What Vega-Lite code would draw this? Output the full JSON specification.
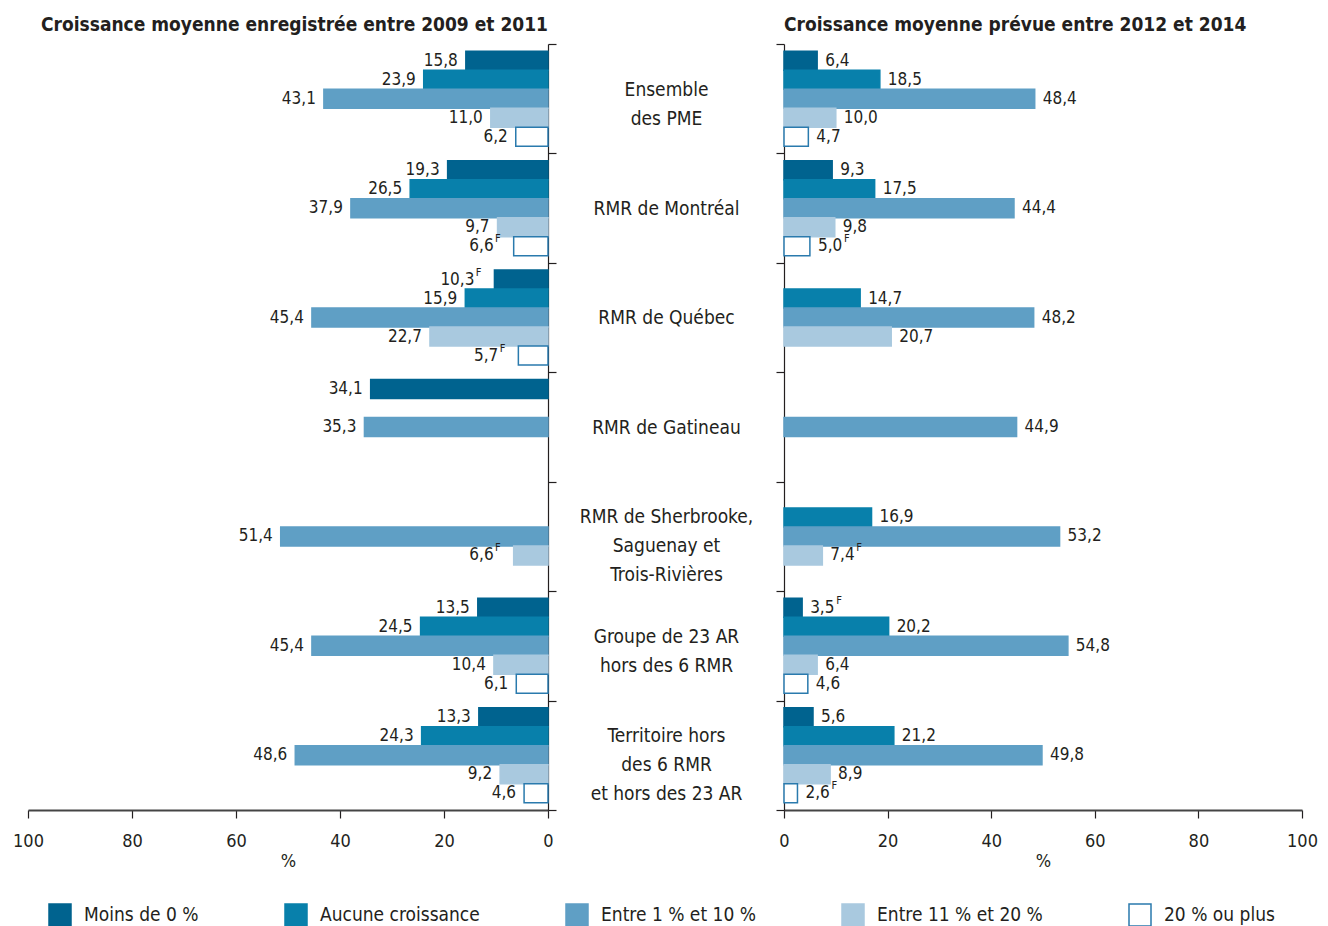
{
  "$schema": "https://vega.github.io/schema/vega-lite/v6.json",
  "background": "white",
  "padding": {"left": 12, "top": 16, "right": 10, "bottom": 5},
  "bounds": "flush",
  "spacing": 236,
  "config": {
    "locale": {"number": {"decimal": ",", "thousands": " ", "grouping": [3], "currency": ["", " $"]}},
    "font": "DejaVu Sans Condensed",
    "view": {"stroke": null},
    "axis": {"labelFont": "DejaVu Sans Condensed", "labelFontSize": 18, "labelColor": "#231f20", "titleFont": "DejaVu Sans Condensed", "titleFontSize": 18, "titleFontWeight": "normal", "titleColor": "#231f20", "domainColor": "#231f20", "tickColor": "#231f20", "grid": false},
    "legend": {"labelFont": "DejaVu Sans Condensed", "labelFontSize": 19, "labelColor": "#231f20"},
    "title": {"font": "DejaVu Sans Condensed", "fontSize": 19, "fontWeight": "bold", "color": "#231f20"}
  },
  "data": {"values": [
    {"p": "A", "region": "Ensemble|des PME", "series": "Moins de 0 %", "value": 15.8, "f": false},
    {"p": "A", "region": "Ensemble|des PME", "series": "Aucune croissance", "value": 23.9, "f": false},
    {"p": "A", "region": "Ensemble|des PME", "series": "Entre 1 % et 10 %", "value": 43.1, "f": false},
    {"p": "A", "region": "Ensemble|des PME", "series": "Entre 11 % et 20 %", "value": 11.0, "f": false},
    {"p": "A", "region": "Ensemble|des PME", "series": "20 % ou plus", "value": 6.2, "f": false},
    {"p": "A", "region": "RMR de Montréal", "series": "Moins de 0 %", "value": 19.3, "f": false},
    {"p": "A", "region": "RMR de Montréal", "series": "Aucune croissance", "value": 26.5, "f": false},
    {"p": "A", "region": "RMR de Montréal", "series": "Entre 1 % et 10 %", "value": 37.9, "f": false},
    {"p": "A", "region": "RMR de Montréal", "series": "Entre 11 % et 20 %", "value": 9.7, "f": false},
    {"p": "A", "region": "RMR de Montréal", "series": "20 % ou plus", "value": 6.6, "f": true},
    {"p": "A", "region": "RMR de Québec", "series": "Moins de 0 %", "value": 10.3, "f": true},
    {"p": "A", "region": "RMR de Québec", "series": "Aucune croissance", "value": 15.9, "f": false},
    {"p": "A", "region": "RMR de Québec", "series": "Entre 1 % et 10 %", "value": 45.4, "f": false},
    {"p": "A", "region": "RMR de Québec", "series": "Entre 11 % et 20 %", "value": 22.7, "f": false},
    {"p": "A", "region": "RMR de Québec", "series": "20 % ou plus", "value": 5.7, "f": true},
    {"p": "A", "region": "RMR de Gatineau", "series": "Moins de 0 %", "value": 34.1, "f": false},
    {"p": "A", "region": "RMR de Gatineau", "series": "Entre 1 % et 10 %", "value": 35.3, "f": false},
    {"p": "A", "region": "RMR de Sherbrooke,|Saguenay et|Trois-Rivières", "series": "Entre 1 % et 10 %", "value": 51.4, "f": false},
    {"p": "A", "region": "RMR de Sherbrooke,|Saguenay et|Trois-Rivières", "series": "Entre 11 % et 20 %", "value": 6.6, "f": true},
    {"p": "A", "region": "Groupe de 23 AR|hors des 6 RMR", "series": "Moins de 0 %", "value": 13.5, "f": false},
    {"p": "A", "region": "Groupe de 23 AR|hors des 6 RMR", "series": "Aucune croissance", "value": 24.5, "f": false},
    {"p": "A", "region": "Groupe de 23 AR|hors des 6 RMR", "series": "Entre 1 % et 10 %", "value": 45.4, "f": false},
    {"p": "A", "region": "Groupe de 23 AR|hors des 6 RMR", "series": "Entre 11 % et 20 %", "value": 10.4, "f": false},
    {"p": "A", "region": "Groupe de 23 AR|hors des 6 RMR", "series": "20 % ou plus", "value": 6.1, "f": false},
    {"p": "A", "region": "Territoire hors|des 6 RMR|et hors des 23 AR", "series": "Moins de 0 %", "value": 13.3, "f": false},
    {"p": "A", "region": "Territoire hors|des 6 RMR|et hors des 23 AR", "series": "Aucune croissance", "value": 24.3, "f": false},
    {"p": "A", "region": "Territoire hors|des 6 RMR|et hors des 23 AR", "series": "Entre 1 % et 10 %", "value": 48.6, "f": false},
    {"p": "A", "region": "Territoire hors|des 6 RMR|et hors des 23 AR", "series": "Entre 11 % et 20 %", "value": 9.2, "f": false},
    {"p": "A", "region": "Territoire hors|des 6 RMR|et hors des 23 AR", "series": "20 % ou plus", "value": 4.6, "f": false},
    {"p": "B", "region": "Ensemble|des PME", "series": "Moins de 0 %", "value": 6.4, "f": false},
    {"p": "B", "region": "Ensemble|des PME", "series": "Aucune croissance", "value": 18.5, "f": false},
    {"p": "B", "region": "Ensemble|des PME", "series": "Entre 1 % et 10 %", "value": 48.4, "f": false},
    {"p": "B", "region": "Ensemble|des PME", "series": "Entre 11 % et 20 %", "value": 10.0, "f": false},
    {"p": "B", "region": "Ensemble|des PME", "series": "20 % ou plus", "value": 4.7, "f": false},
    {"p": "B", "region": "RMR de Montréal", "series": "Moins de 0 %", "value": 9.3, "f": false},
    {"p": "B", "region": "RMR de Montréal", "series": "Aucune croissance", "value": 17.5, "f": false},
    {"p": "B", "region": "RMR de Montréal", "series": "Entre 1 % et 10 %", "value": 44.4, "f": false},
    {"p": "B", "region": "RMR de Montréal", "series": "Entre 11 % et 20 %", "value": 9.8, "f": false},
    {"p": "B", "region": "RMR de Montréal", "series": "20 % ou plus", "value": 5.0, "f": true},
    {"p": "B", "region": "RMR de Québec", "series": "Aucune croissance", "value": 14.7, "f": false},
    {"p": "B", "region": "RMR de Québec", "series": "Entre 1 % et 10 %", "value": 48.2, "f": false},
    {"p": "B", "region": "RMR de Québec", "series": "Entre 11 % et 20 %", "value": 20.7, "f": false},
    {"p": "B", "region": "RMR de Gatineau", "series": "Entre 1 % et 10 %", "value": 44.9, "f": false},
    {"p": "B", "region": "RMR de Sherbrooke,|Saguenay et|Trois-Rivières", "series": "Aucune croissance", "value": 16.9, "f": false},
    {"p": "B", "region": "RMR de Sherbrooke,|Saguenay et|Trois-Rivières", "series": "Entre 1 % et 10 %", "value": 53.2, "f": false},
    {"p": "B", "region": "RMR de Sherbrooke,|Saguenay et|Trois-Rivières", "series": "Entre 11 % et 20 %", "value": 7.4, "f": true},
    {"p": "B", "region": "Groupe de 23 AR|hors des 6 RMR", "series": "Moins de 0 %", "value": 3.5, "f": true},
    {"p": "B", "region": "Groupe de 23 AR|hors des 6 RMR", "series": "Aucune croissance", "value": 20.2, "f": false},
    {"p": "B", "region": "Groupe de 23 AR|hors des 6 RMR", "series": "Entre 1 % et 10 %", "value": 54.8, "f": false},
    {"p": "B", "region": "Groupe de 23 AR|hors des 6 RMR", "series": "Entre 11 % et 20 %", "value": 6.4, "f": false},
    {"p": "B", "region": "Groupe de 23 AR|hors des 6 RMR", "series": "20 % ou plus", "value": 4.6, "f": false},
    {"p": "B", "region": "Territoire hors|des 6 RMR|et hors des 23 AR", "series": "Moins de 0 %", "value": 5.6, "f": false},
    {"p": "B", "region": "Territoire hors|des 6 RMR|et hors des 23 AR", "series": "Aucune croissance", "value": 21.2, "f": false},
    {"p": "B", "region": "Territoire hors|des 6 RMR|et hors des 23 AR", "series": "Entre 1 % et 10 %", "value": 49.8, "f": false},
    {"p": "B", "region": "Territoire hors|des 6 RMR|et hors des 23 AR", "series": "Entre 11 % et 20 %", "value": 8.9, "f": false},
    {"p": "B", "region": "Territoire hors|des 6 RMR|et hors des 23 AR", "series": "20 % ou plus", "value": 2.6, "f": true}
  ]},
  "hconcat": [
    {
      "width": 520,
      "height": 766,
      "title": {"text": "Croissance moyenne enregistrée entre 2009 et 2011", "anchor": "end", "frame": "group", "offset": 8},
      "transform": [{"filter": "datum.p === 'A'"}],
      "encoding": {
        "y": {"field": "region", "type": "nominal",
          "scale": {"domain": ["Ensemble|des PME", "RMR de Montréal", "RMR de Québec", "RMR de Gatineau", "RMR de Sherbrooke,|Saguenay et|Trois-Rivières", "Groupe de 23 AR|hors des 6 RMR", "Territoire hors|des 6 RMR|et hors des 23 AR"], "paddingInner": 0, "paddingOuter": 0},
          "axis": {"orient": "right", "title": null, "labels": false, "tickBand": "extent", "tickSize": 8, "domainWidth": 1.2, "tickWidth": 1.2}},
        "yOffset": {"field": "series", "type": "nominal",
          "scale": {"domain": ["Moins de 0 %", "Aucune croissance", "Entre 1 % et 10 %", "Entre 11 % et 20 %", "20 % ou plus"], "paddingInner": 0, "paddingOuter": 0.38}},
        "x": {"field": "value", "type": "quantitative",
          "scale": {"domain": [0, 100], "reverse": true},
          "axis": {"values": [0, 20, 40, 60, 80, 100], "title": "%", "tickSize": 8, "tickWidth": 1.2, "labelFlush": false, "labelPadding": 14, "titlePadding": 2, "domainWidth": 2, "domainColor": "#444"}}
      },
      "layer": [
        {"mark": {"type": "bar", "strokeWidth": 1.5},
         "encoding": {
           "fill": {"field": "series", "type": "nominal", "title": null,
             "scale": {"domain": ["Moins de 0 %", "Aucune croissance", "Entre 1 % et 10 %", "Entre 11 % et 20 %", "20 % ou plus"], "range": ["#00638f", "#0880ab", "#5f9fc5", "#a9c9df", "#ffffff"]},
             "legend": {"orient": "none", "legendX": 20, "legendY": 859, "direction": "horizontal", "symbolType": "square", "symbolSize": 484, "symbolStrokeWidth": 1.5, "labelOffset": 12, "columnPadding": 83, "labelLimit": 300}},
           "stroke": {"field": "series", "type": "nominal", "title": null,
             "scale": {"domain": ["Moins de 0 %", "Aucune croissance", "Entre 1 % et 10 %", "Entre 11 % et 20 %", "20 % ou plus"], "range": ["#00638f", "#0880ab", "#5f9fc5", "#a9c9df", "#2a7aad"]}}
         }},
        {"transform": [{"filter": "!datum.f"}],
         "mark": {"type": "text", "align": "right", "dx": -8, "fontSize": 17, "color": "#231f20"},
         "encoding": {"text": {"field": "value", "type": "quantitative", "format": ".1f"}}},
        {"transform": [{"filter": "datum.f"}],
         "mark": {"type": "text", "align": "right", "dx": -20, "fontSize": 17, "color": "#231f20"},
         "encoding": {"text": {"field": "value", "type": "quantitative", "format": ".1f"}}},
        {"transform": [{"filter": "datum.f"}],
         "mark": {"type": "text", "align": "right", "dx": -13, "dy": -7, "fontSize": 11, "color": "#231f20"},
         "encoding": {"text": {"value": "F"}}}
      ]
    },
    {
      "width": 518,
      "height": 766,
      "title": {"text": "Croissance moyenne prévue entre 2012 et 2014", "anchor": "start", "frame": "group", "offset": 0},
      "transform": [{"filter": "datum.p === 'B'"}],
      "encoding": {
        "y": {"field": "region", "type": "nominal",
          "scale": {"domain": ["Ensemble|des PME", "RMR de Montréal", "RMR de Québec", "RMR de Gatineau", "RMR de Sherbrooke,|Saguenay et|Trois-Rivières", "Groupe de 23 AR|hors des 6 RMR", "Territoire hors|des 6 RMR|et hors des 23 AR"], "paddingInner": 0, "paddingOuter": 0},
          "axis": {"orient": "left", "title": null, "tickBand": "extent", "tickSize": 8, "domainWidth": 1.2, "tickWidth": 1.2, "labelExpr": "split(datum.label, '|')", "labelAlign": "center", "labelBaseline": "middle", "labelPadding": 110, "labelFontSize": 19, "labelLineHeight": 29, "labelLimit": 300, "labelOverlap": false,
            "labelOffset": {"condition": [{"test": "length(split(datum.value, '|')) === 3", "value": -20}, {"test": "length(split(datum.value, '|')) === 2", "value": -9}], "value": 0}}},
        "yOffset": {"field": "series", "type": "nominal",
          "scale": {"domain": ["Moins de 0 %", "Aucune croissance", "Entre 1 % et 10 %", "Entre 11 % et 20 %", "20 % ou plus"], "paddingInner": 0, "paddingOuter": 0.38}},
        "x": {"field": "value", "type": "quantitative",
          "scale": {"domain": [0, 100]},
          "axis": {"values": [0, 20, 40, 60, 80, 100], "title": "%", "tickSize": 8, "tickWidth": 1.2, "labelFlush": false, "labelPadding": 14, "titlePadding": 2, "domainWidth": 2, "domainColor": "#444"}}
      },
      "layer": [
        {"mark": {"type": "bar", "strokeWidth": 1.5},
         "encoding": {
           "fill": {"field": "series", "type": "nominal", "title": null},
           "stroke": {"field": "series", "type": "nominal", "title": null}
         }},
        {"transform": [{"filter": "!datum.f"}],
         "mark": {"type": "text", "align": "left", "dx": 8, "fontSize": 17, "color": "#231f20"},
         "encoding": {"text": {"field": "value", "type": "quantitative", "format": ".1f"}}},
        {"transform": [{"filter": "datum.f"}],
         "mark": {"type": "text", "align": "left", "dx": 8, "fontSize": 17, "color": "#231f20"},
         "encoding": {"text": {"field": "value", "type": "quantitative", "format": ".1f"}}},
        {"transform": [{"filter": "datum.f"}],
         "mark": {"type": "text", "align": "left", "dx": 34, "dy": -7, "fontSize": 11, "color": "#231f20"},
         "encoding": {"text": {"value": "F"}}}
      ]
    }
  ]
}
